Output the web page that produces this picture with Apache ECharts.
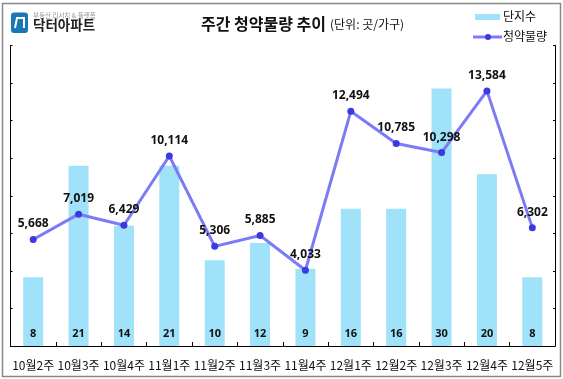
<!DOCTYPE html>
<html>

<head>
    <meta charset="utf-8">
    <title>주간 청약물량 추이</title>
    <style>
        html, body { margin: 0; padding: 0; background: #fff; }
        #root { width: 563px; height: 379px; }
    </style>
    <script type="text/javascript" src="https://cdn.jsdelivr.net/npm/echarts@6/dist/echarts.min.js"></script>
</head>

<body>
    <div id="root"></div>
</body>
<script type="text/javascript">
var categories = ['10월2주', '10월3주', '10월4주', '11월1주', '11월2주', '11월3주', '11월4주', '12월1주', '12월2주', '12월3주', '12월4주', '12월5주'];
var complexes = [8, 21, 14, 21, 10, 12, 9, 16, 16, 30, 20, 8];
var volumes = [5668, 7019, 6429, 10114, 5306, 5885, 4033, 12494, 10785, 10298, 13584, 6302];

var textFont = '"Noto Sans CJK KR", sans-serif';
var numFont = '"Open Sans", sans-serif';

var myChart = echarts.init(document.getElementById('root'));
var option = {
    animation: false,
    grid: { left: 10.5, right: 8, top: 45.5, bottom: 33 },
    legend: { show: false },
    xAxis: [{
        type: 'category',
        data: categories,
        axisLine: { lineStyle: { color: '#000', width: 1 } },
        axisTick: { show: true, inside: true, length: 4, alignWithLabel: false, lineStyle: { color: '#000' } },
        axisLabel: { interval: 0, color: '#111', fontFamily: textFont, fontSize: 12, margin: 13 }
    }],
    yAxis: [{
        type: 'value',
        min: 0,
        max: 35,
        interval: 4.375,
        splitLine: { show: false },
        axisLine: { show: true, lineStyle: { color: '#000', width: 1 } },
        axisTick: { show: true, inside: true, length: 2, lineStyle: { color: '#000' } },
        axisLabel: { show: false }
    }, {
        type: 'value',
        min: 0,
        max: 16000,
        interval: 2000,
        position: 'right',
        splitLine: { show: false },
        axisLine: { show: true, lineStyle: { color: '#000', width: 1 } },
        axisTick: { show: true, inside: true, length: 2, lineStyle: { color: '#000' } },
        axisLabel: { show: false }
    }],
    series: [{
        name: '단지수',
        type: 'bar',
        barWidth: 20,
        itemStyle: { color: '#a0e2fa' },
        label: {
            show: true,
            position: 'insideBottom',
            distance: 7,
            color: '#111',
            fontFamily: numFont,
            fontWeight: 'bold',
            fontSize: 11
        },
        data: complexes
    }, {
        name: '청약물량',
        type: 'line',
        yAxisIndex: 1,
        symbol: 'circle',
        symbolSize: 7,
        lineStyle: { color: '#7b7bf7', width: 3 },
        itemStyle: { color: '#3a3ae0' },
        label: {
            show: true,
            position: 'top',
            distance: 6,
            color: '#111',
            fontFamily: numFont,
            fontWeight: 'bold',
            fontSize: 12,
            formatter: function(p) {
                return p.value.toLocaleString('en-US');
            }
        },
        data: volumes
    }],
    graphic: [
        { type: 'rect', shape: { x: 2.5, y: 3.5, width: 558, height: 373 }, style: { fill: 'none', stroke: '#888', lineWidth: 1.5 }, silent: true },
        // logo
        { type: 'rect', shape: { x: 11, y: 12.5, width: 17, height: 20.5, r: 3 }, style: { fill: '#1878b4' }, silent: true },
        { type: 'polyline', shape: { points: [[15, 28], [17, 18], [24, 18], [24, 28]] }, style: { fill: 'none', stroke: '#fff', lineWidth: 2 }, silent: true },
        { type: 'text', x: 33, y: 12, style: { text: '부동산 리서치 & 플랫폼', fill: '#999', fontSize: 6.5, fontFamily: textFont }, silent: true },
        { type: 'text', x: 33, y: 18, style: { text: '닥터아파트', fill: '#222', fontSize: 13.5, fontWeight: 'bold', fontFamily: textFont }, silent: true },
        // title
        { type: 'text', x: 201, y: 16, style: { text: '주간 청약물량 추이', fill: '#111', fontSize: 16, fontWeight: 'bold', fontFamily: textFont }, silent: true },
        { type: 'text', x: 330, y: 18, style: { text: '(단위: 곳/가구)', fill: '#111', fontSize: 12, fontFamily: textFont }, silent: true },
        // legend
        { type: 'rect', shape: { x: 475, y: 14, width: 25, height: 6 }, style: { fill: '#a0e2fa' }, silent: true },
        { type: 'text', x: 503, y: 10.5, style: { text: '단지수', fill: '#111', fontSize: 12, fontFamily: textFont }, silent: true },
        { type: 'line', shape: { x1: 473, y1: 37, x2: 502, y2: 37 }, style: { stroke: '#7b7bf7', lineWidth: 3 }, silent: true },
        { type: 'circle', shape: { cx: 488, cy: 37, r: 3 }, style: { fill: '#3a3ae0' }, silent: true },
        { type: 'text', x: 503, y: 30, style: { text: '청약물량', fill: '#111', fontSize: 12, fontFamily: textFont }, silent: true }
    ]
};
myChart.setOption(option, true);
</script>

</html>
